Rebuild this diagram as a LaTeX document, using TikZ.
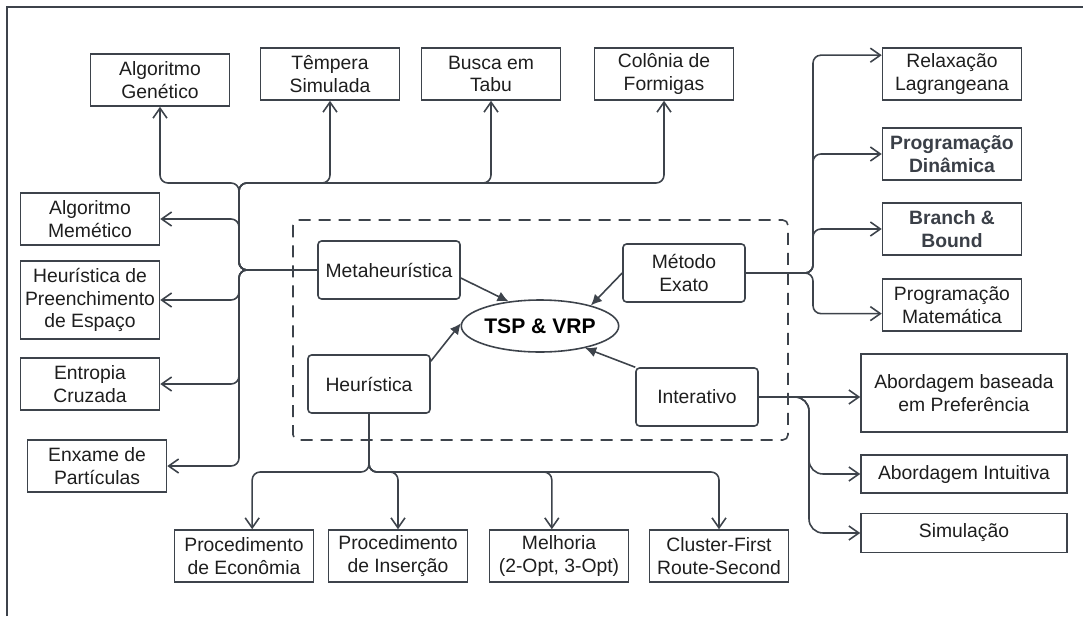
\documentclass[tikz,border=0pt]{standalone}
\usepackage{fontspec}
\setmainfont{Liberation Sans}
\usepackage{tikz}
\usetikzlibrary{arrows.meta}
\usetikzlibrary{shapes.geometric}

\definecolor{linec}{HTML}{3D434B}
\definecolor{txtc}{HTML}{1E1E1E}
\definecolor{boldc}{HTML}{3A3F47}

\tikzset{
  box/.style={draw=linec, line width=0.9pt, text=txtc, align=center, inner sep=1pt,
    minimum width=2.78cm, minimum height=1.04cm, font=\fontsize{11}{13}\selectfont},
  boldbox/.style={box, text=boldc, font=\fontsize{11}{13}\selectfont\bfseries},
  mbox/.style={box, rounded corners=2pt, minimum width=2.44cm, minimum height=1.16cm},
  wbox/.style={box, minimum width=4.12cm},
  conn/.style={draw=linec, line width=0.9pt, rounded corners=4.5pt,
    -{Straight Barb[length=2mm,width=2.8mm]}},
  tomain/.style={draw=linec, line width=0.9pt, -{Latex[length=2.2mm,width=2.1mm]}}
}

\begin{document}
\begin{tikzpicture}[x=0.02cm,y=-0.02cm]
\useasboundingbox (0,0) rectangle (1083,616);
\draw [linec, line width=1.1pt] (7,616) -- (7,7) -- (1083,7);

\draw [linec, line width=0.9pt, dash pattern=on 2.4mm off 1.6mm, rounded corners=3pt] (293,220) rectangle (788,440);

\node [ellipse, draw=linec, line width=0.9pt, minimum width=2.42cm, minimum height=1.04cm, inner sep=0pt,
  font=\fontsize{12}{14}\selectfont\bfseries] (tsp) at (540,326) {TSP \& VRP};
\node [mbox, minimum width=2.84cm] (meta) at (389,270) {Metaheurística};
\node [mbox] (heur) at (369,384) {Heurística};
\node [mbox] (exato) at (684,273) {Método\\Exato};
\node [mbox] (inter) at (697,397) {Interativo};

\draw [tomain] ([yshift=-0.16cm]meta.east) -- (tsp.142);
\draw [tomain] (exato.west) -- (tsp.22);
\draw [tomain] ([yshift=-0.14cm]heur.north east) -- (tsp.178);
\draw [tomain] (inter.north west) -- (tsp.-26);

% metaheuristicas
\node [box] (ag) at (160,80) {Algoritmo\\Genético};
\node [box] (ts) at (330,74) {Têmpera\\Simulada};
\node [box] (bt) at (491,74) {Busca em\\Tabu};
\node [box] (cf) at (664,74) {Colônia de\\Formigas};
\node [box] (am) at (90,219) {Algoritmo\\Memético};
\node [box, minimum height=1.56cm] (hpe) at (90,300) {Heurística de\\Preenchimento\\de Espaço};
\node [box] (ec) at (90,384) {Entropia\\Cruzada};
\node [box] (ep) at (97,466) {Enxame de\\Partículas};
\coordinate (mbus) at (239,183);

\foreach \t in {ag,ts,bt,cf}
  \draw [conn] (meta.west) -| (mbus) -| (\t.south);
\foreach \t in {am,hpe,ec,ep}
  \draw [conn] (meta.west) -| (mbus |- \t.east) -- (\t.east);

% metodos exatos
\node [box] (rl) at (952,74) {Relaxação\\Lagrangeana};
\node [boldbox] (pd) at (952,154) {Programação\\Dinâmica};
\node [boldbox] (bb) at (952,229) {Branch \&\\Bound};
\node [box] (pm) at (952,305) {Programação\\Matemática};
\coordinate (ebus) at (813,273);

\foreach \t/\a in {rl/165,pd/180,bb/180,pm/187}
  \draw [conn] (exato.east) -| (ebus |- \t.\a) -- (\t.\a);

% interativo
\node [wbox, minimum height=1.56cm] (abp) at (964,393) {Abordagem baseada\\em Preferência};
\node [wbox, minimum height=0.76cm] (ai) at (964,474) {Abordagem Intuitiva};
\node [wbox, minimum height=0.78cm] (sim) at (964,533) {Simulação};
\coordinate (ibus) at (809,397);

\draw [conn] (inter.east) -- (inter.east -| abp.west);
\foreach \t in {ai,sim}
  \draw [conn, rounded corners=8pt] (inter.east) -| (ibus |- \t.west) -- (\t.west);

% heuristicas
\node [box] (pe) at (244,556) {Procedimento\\de Econômia};
\node [box] (pin) at (398,556) {Procedimento\\de Inserção};
\node [box] (mel) at (559,556) {Melhoria\\(2-Opt, 3-Opt)};
\node [box] (cfrs) at (719,556) {Cluster-First\\Route-Second};
\coordinate (hbus) at (369,472);

\foreach \t/\a in {pe/73,pin/90,mel/105,cfrs/90}
  \draw [conn] (heur.south) -- (hbus) -| (\t.\a);

\end{tikzpicture}
\end{document}
